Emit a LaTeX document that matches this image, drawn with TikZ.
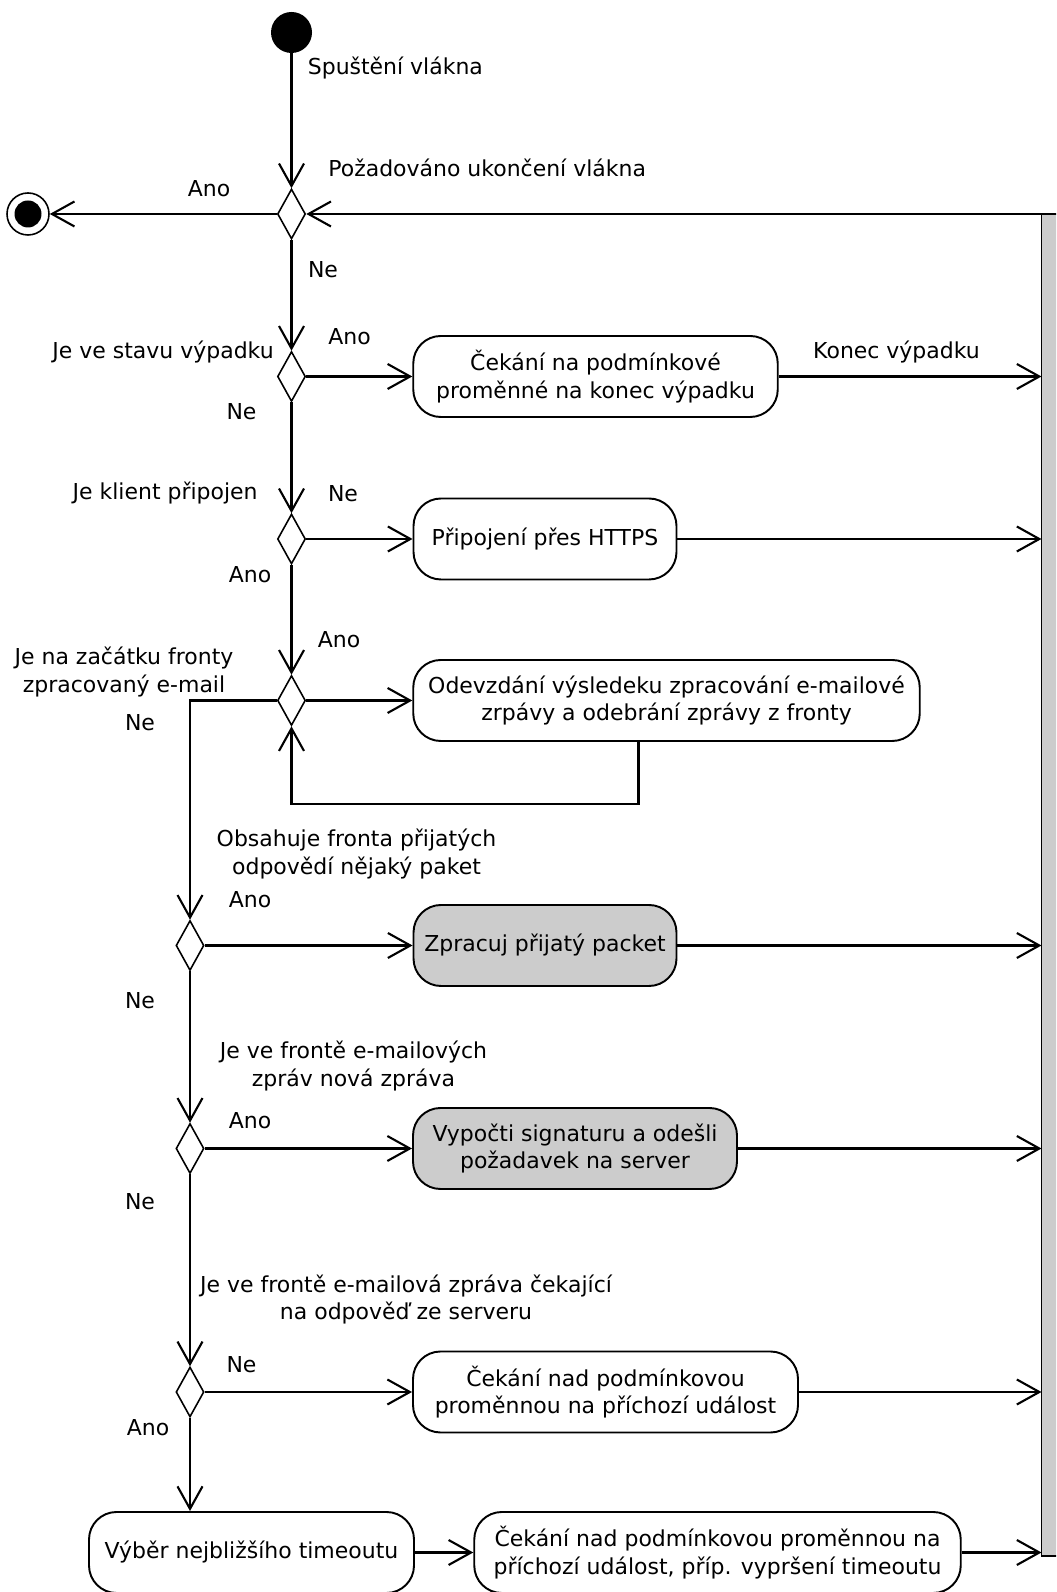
\documentclass[tikz,border=0pt]{standalone}
\usepackage{fontspec}
\setmainfont{DejaVu Sans}
\usetikzlibrary{arrows.meta,shapes.geometric}
\definecolor{actgray}{HTML}{CCCCCC}

\begin{document}
\begin{tikzpicture}[
            flow/.style={line width=1.2pt,-{Straight Barb[length=4.5mm,width=5mm]}},
            decision/.style={draw,shape=diamond,line width=0.9pt,minimum width=0.56cm,minimum height=1cm,inner sep=0},
            activity/.style={draw,line width=1.1pt,rounded corners=0.55cm,minimum height=1.62cm,align=center,inner sep=2pt},
            lbl/.style={inner sep=0,align=center},
            font=\fontsize{12.5}{15.6}\selectfont]
            \useasboundingbox (0,0) rectangle (21.12,31.84);
            \clip (0,0) rectangle (21.12,31.84);

            \node[circle,fill=black,minimum size=0.82cm,inner sep=0] (start) at (5.83,31.19) {};
            \node[circle,draw,line width=0.9pt,minimum size=0.84cm,inner sep=0] (end) at (0.56,27.56) {};
            \node[circle,fill=black,minimum size=0.54cm,inner sep=0] (endcore) at (end) {};
            \node[decision] (quit) at (5.83,27.56) {};
            \node[decision] (outage) at (5.83,24.31) {};
            \node[decision] (conn) at (5.83,21.06) {};
            \node[decision] (done) at (5.83,17.83) {};
            \node[decision] (resp) at (3.80,12.93) {};
            \node[decision] (newmsg) at (3.80,8.87) {};
            \node[decision] (waitmsg) at (3.80,4.00) {};

            \node[activity,minimum width=7.29cm] (waitout) at (11.91,24.31) {Čekání na podmínkové\\proměnné na konec výpadku};
            \node[activity,minimum width=5.26cm] (https) at (10.90,21.06) {Připojení přes HTTPS};
            \node[activity,minimum width=10.13cm] (submit) at (13.33,17.83) {Odevzdání výsledeku zpracování e-mailové\\zrpávy a odebrání zprávy z fronty};
            \node[activity,fill=actgray,minimum width=5.26cm] (packet) at (10.90,12.93) {Zpracuj přijatý packet};
            \node[activity,fill=actgray,minimum width=6.48cm] (sign) at (11.50,8.87) {Vypočti signaturu a odešli\\požadavek na server};
            \node[activity,minimum width=7.70cm] (waitev) at (12.11,4.00) {Čekání nad podmínkovou\\proměnnou na příchozí událost};
            \node[activity,minimum width=6.5cm] (timeout) at (5.03,0.79) {Výběr nejbližšího timeoutu};
            \node[activity,minimum width=9.73cm] (waitto) at (14.35,0.79) {Čekání nad podmínkovou proměnnou na\\příchozí událost, příp. vypršení timeoutu};
            \node[draw,fill=actgray,line width=1.1pt,outer sep=0,minimum width=0.6cm,minimum height=26.84cm,anchor=south west,inner sep=0] (bar) at (20.83,0.72) {};

            \draw[flow] (start) -- (quit.north);
            \draw[flow] (quit.west) -- (end);
            \draw[flow] (quit.east -| bar.west) -- (quit.east);
            \draw[flow] (quit.south) -- (outage.north);
            \draw[flow] (outage.east) -- (waitout);
            \draw[flow] (waitout) -- (waitout -| bar.west);
            \draw[flow] (outage.south) -- (conn.north);
            \draw[flow] (conn.east) -- (https);
            \draw[flow] (https) -- (https -| bar.west);
            \draw[flow] (conn.south) -- (done.north);
            \draw[flow] (done.east) -- (submit);
            \draw[flow] ([xshift=-0.56cm]submit.south) -- ++(0,-1.24) -| (done.south);
            \draw[flow] (done.west) -| (resp.north);
            \draw[flow] (resp.east) -- (packet);
            \draw[flow] (packet) -- (packet -| bar.west);
            \draw[flow] (resp.south) -- (newmsg.north);
            \draw[flow] (newmsg.east) -- (sign);
            \draw[flow] (sign) -- (sign -| bar.west);
            \draw[flow] (newmsg.south) -- (waitmsg.north);
            \draw[flow] (waitmsg.east) -- (waitev);
            \draw[flow] (waitev) -- (waitev -| bar.west);
            \draw[flow] (waitmsg.south) -- (waitmsg.south |- timeout.north);
            \draw[flow] (timeout) -- (waitto);
            \draw[flow] (waitto) -- (waitto -| bar.west);

            \node[lbl,anchor=west] (lstart) at (6.15,30.48) {Spuštění vlákna};
            \node[lbl,anchor=west] (lquit) at (6.56,28.49) {Požadováno ukončení vlákna};
            \node[lbl] (lquitano) at (4.18,28.06) {Ano};
            \node[lbl] (lquitne) at (6.46,26.44) {Ne};
            \node[lbl,anchor=east] (loutage) at (5.48,24.79) {Je ve stavu výpadku};
            \node[lbl] (loutano) at (6.99,25.10) {Ano};
            \node[lbl] (loutne) at (4.83,23.60) {Ne};
            \node[lbl] (lendout) at (17.93,24.79) {Konec výpadku};
            \node[lbl,anchor=east] (lconn) at (5.16,21.97) {Je klient připojen};
            \node[lbl] (lconnne) at (6.86,21.97) {Ne};
            \node[lbl] (lconnano) at (5.00,20.35) {Ano};
            \node[lbl] (ldone) at (2.48,18.40) {Je na začátku fronty\\zpracovaný e-mail};
            \node[lbl] (ldoneano) at (6.78,19.05) {Ano};
            \node[lbl] (ldonene) at (2.80,17.38) {Ne};
            \node[lbl] (lresp) at (7.13,14.76) {Obsahuje fronta přijatých\\odpovědí nějaký paket};
            \node[lbl] (lrespano) at (5.00,13.85) {Ano};
            \node[lbl] (lrespne) at (2.80,11.82) {Ne};
            \node[lbl] (lnew) at (7.07,10.52) {Je ve frontě e-mailových\\zpráv nová zpráva};
            \node[lbl] (lnewano) at (5.00,9.42) {Ano};
            \node[lbl] (lnewne) at (2.80,7.80) {Ne};
            \node[lbl] (lwait) at (8.12,5.85) {Je ve frontě e-mailová zpráva čekající\\na odpověď ze serveru};
            \node[lbl] (lwaitne) at (4.83,4.55) {Ne};
            \node[lbl] (lwaitano) at (2.96,3.29) {Ano};
\end{tikzpicture}
\end{document}
